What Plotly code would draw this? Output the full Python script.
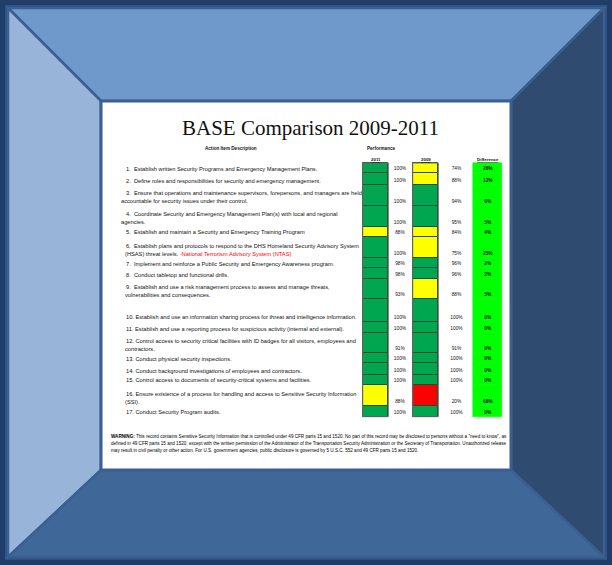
import plotly.graph_objects as go

# ---------------- data ----------------
title = "BASE Comparison 2009-2011"
header_desc = "Action Item Description"
header_perf = "Performance"
col_headers = ["2011", "2009", "Difference"]

descriptions = [
    ["1.\u00a0\u00a0Establish written Security Programs and Emergency Management Plans."],
    ["2.\u00a0\u00a0Define roles and responsibilities for security and emergency management."],
    ["3.\u00a0\u00a0Ensure that operations and maintenance supervisors, forepersons, and managers are held",
     "accountable for security issues under their control."],
    ["4.\u00a0\u00a0Coordinate Security and Emergency Management Plan(s) with local and regional",
     "agencies."],
    ["5.\u00a0\u00a0Establish and maintain a Security and Emergency Training Program"],
    ["6.\u00a0\u00a0Establish plans and protocols to respond to the DHS Homeland Security Advisory System",
     "(HSAS) threat levels. <span style='color:#ff0000'>-National Terrorism Advisory System (NTAS)</span>"],
    ["7.\u00a0\u00a0Implement and reinforce a Public Security and Emergency Awareness program."],
    ["8.\u00a0\u00a0Conduct tabletop and functional drills."],
    ["9.\u00a0\u00a0Establish and use a risk management process to assess and manage threats,",
     "vulnerabilities and consequences."],
    ["10. Establish and use an information sharing process for threat and intelligence information."],
    ["11. Establish and use a reporting process for suspicious activity (internal and external)."],
    ["12. Control access to security critical facilities with ID badges for all visitors, employees and",
     "contractors."],
    ["13. Conduct physical security inspections."],
    ["14. Conduct background investigations of employees and contractors."],
    ["15. Control access to documents of security-critical systems and facilities."],
    ["16. Ensure existence of a process for handling and access to Sensitive Security Information",
     "(SSI)."],
    ["17. Conduct Security Program audits."],
]

perf_2011 = [100, 100, 100, 100, 88, 100, 98, 98, 93, 100, 100, 91, 100, 100, 100, 88, 100]
perf_2009 = [74, 88, 94, 95, 84, 75, 96, 96, 88, 100, 100, 91, 100, 100, 100, 20, 100]
difference = [26, 12, 6, 5, 4, 25, 2, 2, 5, 0, 0, 0, 0, 0, 0, 68, 0]

status_2011 = ["G", "G", "G", "G", "Y", "G", "G", "G", "G", "G", "G", "G", "G", "G", "G", "Y", "G"]
status_2009 = ["Y", "Y", "G", "G", "Y", "Y", "G", "G", "Y", "G", "G", "G", "G", "G", "G", "R", "G"]

warning_lines = [
    "<b>WARNING:</b> This record contains Sensitive Security Information that is controlled under 49 CFR parts 15 and 1520. "
    "No part of this record may be disclosed to persons without a \"need to know\", as",
    "defined in 49 CFR parts 15 and 1520, except with the written permission of the Administrator of the Transportation "
    "Security Administration or the Secretary of Transportation. Unauthorized release",
    "may result in civil penalty or other action. For U.S. government agencies, public disclosure is governed by "
    "5 U.S.C. 552 and 49 CFR parts 15 and 1520.",
]

# ---------------- layout constants (pixels) ----------------
W, H = 612, 565
row_edges = [163, 173.3, 185, 205.7, 226.7, 236.7, 258.3, 268.3, 279, 299.3,
             321.7, 333.3, 353.3, 363.3, 375, 384.7, 406, 416.7]
cont_x = [122, 122, 120, 120, 122, 124, 122, 122, 124, 122, 122, 124, 122, 122, 122, 124, 122]
text_x = 125
col2011 = (362.7, 388.3)
col2009 = (412.7, 438.3)
coldiff = (473.3, 502.3)
pct2011_x, pct2009_x, pctdiff_x = 400, 456.5, 487.8

status_color = {"G": "#00a650", "Y": "#ffff00", "R": "#ff0000"}
font_sans = "Liberation Sans, Arial, sans-serif"

row_top = row_edges[:-1]
row_h = [b - a for a, b in zip(row_edges[:-1], row_edges[1:])]
row_bottom = row_edges[1:]
label_y = [b - 4.3 for b in row_bottom]

fig = go.Figure()

# ---------------- frame ----------------
outer = (8, 8, 604, 557)
inner = (101, 101, 511, 470)
ox0, oy0, ox1, oy1 = outer
ix0, iy0, ix1, iy1 = inner
shapes = []
def poly(pts, fill):
    d = "M " + " L ".join(f"{x},{y}" for x, y in pts) + " Z"
    return dict(type="path", path=d, fillcolor=fill, line=dict(color="#3a5f90", width=2.5), layer="below")
shapes.append(dict(type="rect", x0=0, y0=0, x1=W, y1=H, fillcolor="#1f3d68", line_width=0, layer="below"))
shapes.append(dict(type="rect", x0=ox0 - 3, y0=oy0 - 3, x1=ox1 + 3, y1=oy1 + 3, fillcolor="#2d5384", line_width=0, layer="below"))
shapes.append(poly([(ox0, oy0), (ox1, oy0), (ix1, iy0), (ix0, iy0)], "#7099cb"))
shapes.append(poly([(ox0, oy0), (ix0, iy0), (ix0, iy1), (ox0, oy1)], "#98b4d9"))
shapes.append(poly([(ox1, oy0), (ox1, oy1), (ix1, iy1), (ix1, iy0)], "#2f4b6f"))
shapes.append(poly([(ox0, oy1), (ox1, oy1), (ix1, iy1), (ix0, iy1)], "#3f6899"))
shapes.append(dict(type="rect", x0=ix0, y0=iy0, x1=ix1, y1=iy1, fillcolor="#ffffff",
                   line=dict(color="#3a5f90", width=3), layer="below"))

# ---------------- performance cells ----------------
def cell_bar(col, statuses, linecolor, lw):
    cx = (col[0] + col[1]) / 2
    return go.Bar(x=[cx] * len(row_top), base=row_top, y=row_h, width=col[1] - col[0],
                  marker=dict(color=[status_color[s] if s in status_color else s for s in statuses],
                              line=dict(color=linecolor, width=lw)),
                  hoverinfo="skip", showlegend=False)

fig.add_trace(cell_bar(col2011, status_2011, "#1d4f2e", 1))
fig.add_trace(cell_bar(col2009, status_2009, "#1d4f2e", 1))
fig.add_trace(cell_bar(coldiff, ["#00ff00"] * len(row_top), "#00ff00", 0.5))

for col in (col2011, col2009):
    shapes.append(dict(type="rect", x0=col[0], y0=row_edges[0], x1=col[1], y1=row_edges[-1],
                       line=dict(color="#6b6b6b", width=1), fillcolor="rgba(0,0,0,0)"))

# percentages
def pct_trace(x, vals, bold=False):
    txt = [(f"<b>{v}%</b>" if bold else f"{v}%") for v in vals]
    return go.Scatter(x=[x] * len(vals), y=label_y, mode="text", text=txt,
                      textfont=dict(family=font_sans, size=4.8, color="#111111"),
                      hoverinfo="skip", showlegend=False)

fig.add_trace(pct_trace(pct2011_x, perf_2011))
fig.add_trace(pct_trace(pct2009_x, perf_2009))
fig.add_trace(pct_trace(pctdiff_x, difference, bold=True))

annotations = []
def ann(x, y, text, size, xanchor="left", family=font_sans, color="#111111"):
    annotations.append(dict(x=x, y=y, xref="x", yref="y", text=text, showarrow=False,
                            xanchor=xanchor, yanchor="middle", borderpad=0,
                            font=dict(family=family, size=size, color=color)))

# descriptions
for i, lines in enumerate(descriptions):
    n = len(lines)
    for j, line in enumerate(lines):
        y = label_y[i] - (n - 1 - j) * 8.2
        x = text_x if j == 0 else cont_x[i]
        ann(x, y, line, 5.7)

# headings
ann(310, 128, title, 21, xanchor="center", family="Liberation Serif, Times New Roman, serif", color="#111111")
ann(231, 148, f"<b>{header_desc}</b>", 4.6, xanchor="center")
ann(381, 148, f"<b>{header_perf}</b>", 4.6, xanchor="center")
for x, t in zip([(col2011[0] + col2011[1]) / 2, (col2009[0] + col2009[1]) / 2, (coldiff[0] + coldiff[1]) / 2], col_headers):
    ann(x, 159, f"<b><u>{t}</u></b>", 4.4, xanchor="center")

# warning
for k, line in enumerate(warning_lines):
    ann(110, 436 + k * 7, line, 4.6, color="#000000")

fig.update_layout(
    width=W, height=H, margin=dict(l=0, r=0, t=0, b=0),
    paper_bgcolor="#1f3d68", plot_bgcolor="rgba(0,0,0,0)",
    xaxis=dict(range=[0, W], visible=False, fixedrange=True),
    yaxis=dict(range=[H, 0], visible=False, fixedrange=True),
    shapes=shapes, annotations=annotations, barmode="overlay", bargap=0,
    showlegend=False,
)

fig.write_html("out.html", config={"displayModeBar": False},
               post_script="document.body.style.margin='0';document.body.style.overflow='hidden';")
